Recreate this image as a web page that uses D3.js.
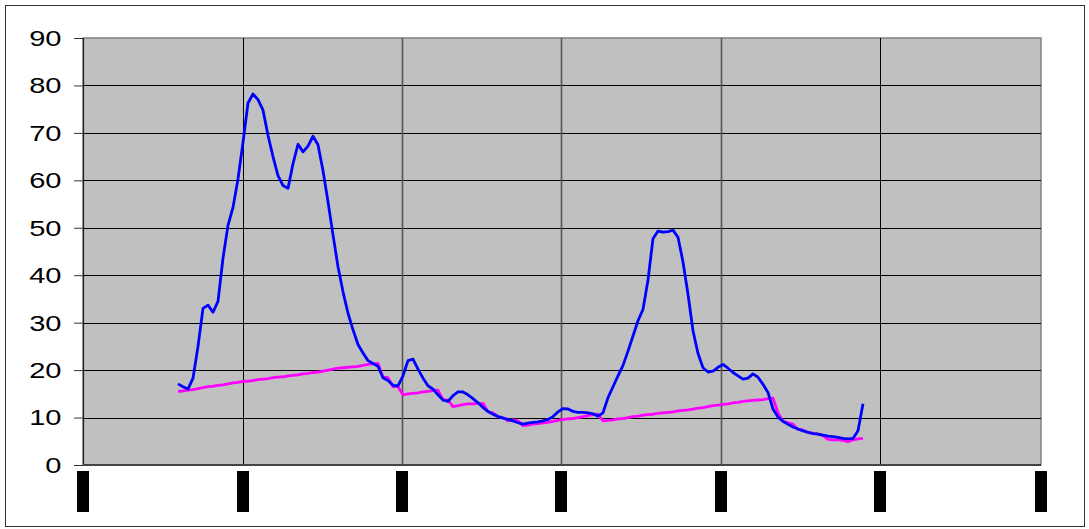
<!DOCTYPE html>
<html><head><meta charset="utf-8">
<script src="https://cdn.jsdelivr.net/npm/d3@7"></script>
<style>html,body{margin:0;padding:0;background:#fff;}svg{display:block;}</style>
</head><body>
<svg id="chart" width="1089" height="529"></svg>
<script>
// ---- data ----
const startIndex = 19;               // first sample position on the index axis
const xTicks = [0, 32, 63.8, 95.6, 127.6, 159.4, 191.6];
const yTicks = [0, 10, 20, 30, 40, 50, 60, 70, 80, 90];
const yTickLabels = ["0","10","20","30","40","50","60","70","80","90"];
const blueValues = [
 17.1,16.5,16.0,18.3,25.0,33.0,33.7,32.2,34.5,43.6,
 50.5,54.3,60.3,68.0,76.3,78.2,77.0,74.8,69.5,65.0,
 61.0,58.9,58.3,63.5,67.6,66.0,67.2,69.3,67.5,62.0,
 55.5,48.5,41.8,36.5,32.0,28.5,25.4,23.6,22.0,21.4,
 20.8,18.4,17.8,16.8,16.7,18.8,22.0,22.3,20.2,18.3,
 16.7,16.0,14.8,13.7,13.4,14.6,15.4,15.4,14.8,14.0,
 13.1,12.1,11.3,10.7,10.2,9.9,9.6,9.3,8.9,8.6,
 8.8,9.0,9.1,9.3,9.6,10.2,11.2,11.9,11.8,11.3,
 11.1,11.1,11.0,10.8,10.3,11.0,14.2,16.5,18.8,21.0,
 24.0,27.2,30.4,32.8,39.0,47.7,49.3,49.1,49.2,49.5,
 48.0,42.8,36.0,28.3,23.5,20.5,19.6,19.8,20.6,21.2,
 20.4,19.5,18.8,18.1,18.3,19.2,18.5,17.0,15.3,11.8,
 10.1,9.2,8.6,8.0,7.6,7.2,6.9,6.6,6.5,6.3,
 6.1,6.0,5.8,5.6,5.5,5.6,7.2,12.9
];
const magentaValues = [
 15.5,15.6,15.8,15.9,16.1,16.3,16.5,16.6,16.8,16.9,
 17.1,17.3,17.4,17.6,17.7,17.8,18.0,18.1,18.2,18.4,
 18.5,18.6,18.8,18.9,19.0,19.2,19.3,19.5,19.6,19.8,
 20.0,20.2,20.4,20.5,20.6,20.7,20.8,21.0,21.2,21.3,
 21.4,18.5,18.4,16.5,16.5,14.8,15.0,15.1,15.2,15.4,
 15.5,15.7,15.8,13.7,13.7,12.3,12.5,12.7,12.9,12.9,
 13.0,13.0,11.2,11.0,10.2,10.0,9.3,9.5,9.3,8.3,
 8.4,8.6,8.7,8.9,9.0,9.2,9.4,9.6,9.7,9.8,
 10.0,10.2,10.4,10.6,10.7,9.3,9.4,9.5,9.7,9.8,
 10.0,10.2,10.3,10.5,10.6,10.7,10.9,11.0,11.1,11.2,
 11.4,11.5,11.6,11.8,12.0,12.1,12.3,12.5,12.6,12.8,
 12.9,13.1,13.2,13.4,13.5,13.6,13.7,13.8,14.0,14.1,
 11.0,9.2,8.9,8.6,7.5,7.4,6.8,6.7,6.5,6.2,
 5.4,5.3,5.3,5.2,4.9,5.3,5.5,5.6
];

// ---- layout ----
const svg = d3.select("#chart");
const L = 83, R = 1041, T = 38, B = 465;
const x = d3.scaleLinear().domain([0, 191.6]).range([L, R]);
const y = d3.scaleLinear().domain([0, 90]).range([B, T]);

// outer border
svg.append("rect").attr("x", 5.5).attr("y", 5.5).attr("width", 1079).attr("height", 521)
  .attr("fill", "#fff").attr("stroke", "#333").attr("stroke-width", 1);

// plot area
svg.append("rect").attr("x", L).attr("y", T).attr("width", R - L).attr("height", B - T)
  .attr("fill", "#c0c0c0").attr("stroke", "#808080").attr("stroke-width", 1.5);

// horizontal gridlines
svg.append("g").selectAll("line").data(yTicks.filter(d => d > 0 && d < 90)).join("line")
  .attr("x1", L).attr("x2", R)
  .attr("y1", d => Math.round(y(d)) + 0.5).attr("y2", d => Math.round(y(d)) + 0.5)
  .attr("stroke", "#000").attr("stroke-width", 1);

// vertical gridlines
svg.append("g").selectAll("line").data(xTicks.slice(1, -1)).join("line")
  .attr("x1", d => Math.round(x(d)) + 0.5).attr("x2", d => Math.round(x(d)) + 0.5)
  .attr("y1", T).attr("y2", B)
  .attr("stroke", (d, i) => (i === 0 || i === 4) ? "#000" : "#555")
  .attr("stroke-width", (d, i) => (i === 0 || i === 4) ? 1 : 1.6);

// y axis (ticks via d3 axis, labels drawn wide like the reference)
const yAxis = d3.axisLeft(y).tickValues(yTicks).tickFormat("").tickSize(9);
const gy = svg.append("g").attr("transform", `translate(${L},0)`).call(yAxis);
gy.select(".domain").attr("stroke", "#222").attr("stroke-width", 1.2);
gy.selectAll(".tick line").attr("stroke", "#333");

svg.append("g").selectAll("g").data(yTicks).join("g")
  .attr("transform", d => `translate(61.5,${y(d)})`)
  .append("text")
  .attr("transform", "scale(1.32,1)")
  .attr("text-anchor", "end").attr("dy", "0.36em")
  .attr("font-family", "Liberation Sans, Arial, sans-serif")
  .attr("font-size", 22).attr("fill", "#000")
  .text((d, i) => yTickLabels[i]);

// x axis line
svg.append("line").attr("x1", L).attr("x2", R).attr("y1", B).attr("y2", B)
  .attr("stroke", "#444").attr("stroke-width", 2);

// x tick labels (rendered as solid black blocks in the reference)
svg.append("g").selectAll("rect").data(xTicks).join("rect")
  .attr("x", d => x(d) - 6).attr("y", 471).attr("width", 12).attr("height", 41)
  .attr("fill", "#000");

// series
const line = d3.line().x((d, i) => x(startIndex + i)).y(d => y(d));
svg.append("path").datum(magentaValues).attr("d", line)
  .attr("fill", "none").attr("stroke", "#ff00ff").attr("stroke-width", 2.8)
  .attr("stroke-linejoin", "round");
svg.append("path").datum(blueValues).attr("d", line)
  .attr("fill", "none").attr("stroke", "#0000ff").attr("stroke-width", 2.8)
  .attr("stroke-linejoin", "round");
</script>
</body></html>
